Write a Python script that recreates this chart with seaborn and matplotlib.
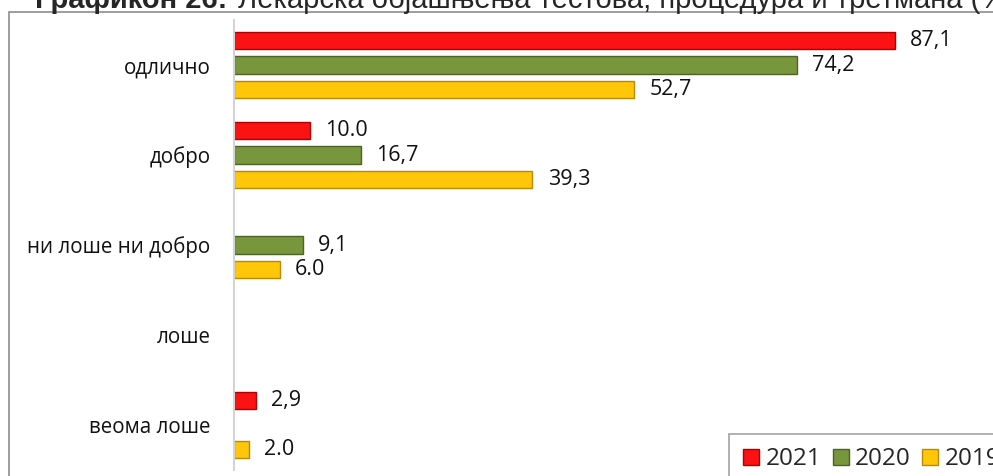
import numpy as np
import pandas as pd
import matplotlib
matplotlib.use("Agg")
import matplotlib.pyplot as plt
from matplotlib.lines import Line2D
from matplotlib.patches import Rectangle
import seaborn as sns

categories = ["одлично", "добро", "ни лоше ни добро", "лоше", "веома лоше"]
years = ["2021", "2020", "2019"]
values_2021 = [87.1, 10.0, np.nan, np.nan, 2.9]
values_2020 = [74.2, 16.7, 9.1, np.nan, np.nan]
values_2019 = [52.7, 39.3, 6.0, np.nan, 2.0]
labels_2021 = ["87,1", "10.0", "", "", "2,9"]
labels_2020 = ["74,2", "16,7", "9,1", "", ""]
labels_2019 = ["52,7", "39,3", "6.0", "", "2.0"]

colors = {"2021": "#fb1212", "2020": "#78963c", "2019": "#ffc60a"}
edges = {"2021": "#b00000", "2020": "#4f6228", "2019": "#b98a00"}

df = pd.DataFrame({
    "category": categories * 3,
    "year": [y for y in years for _ in categories],
    "value": values_2021 + values_2020 + values_2019,
})

sns.set_style("white")
plt.rcParams["font.family"] = ["Open Sans", "DejaVu Sans"]

fig = plt.figure(figsize=(9.93, 4.76), dpi=100)
ax = fig.add_axes([234 / 993, 1 - 470 / 476, (993 - 234) / 993, 450 / 476])

sns.barplot(data=df, y="category", x="value", hue="year", order=categories,
            hue_order=years, palette=colors, saturation=1, orient="h",
            width=0.82, gap=0.3, legend=False, ax=ax)

for cont, yr in zip(ax.containers, years):
    for bar in cont:
        bar.set_edgecolor(edges[yr])
        bar.set_linewidth(1.0)

# value labels, matched to bars by category position
all_labels = [labels_2021, labels_2020, labels_2019]
for cont, labs in zip(ax.containers, all_labels):
    for bar in cont:
        yc = bar.get_y() + bar.get_height() / 2
        i = int(round(yc))
        if labs[i] == "":
            continue
        ax.annotate(labs[i], (bar.get_width(), yc),
                    xytext=(11, 0), textcoords="offset points",
                    va="center", ha="left", fontsize=15.5, color="#111111")

ax.set_xlim(0, 100)
ax.set_ylim(len(categories) - 0.5, -0.5)
ax.set_xlabel("")
ax.set_ylabel("")
ax.set_xticks([])
ax.tick_params(axis="y", length=0, pad=17, labelsize=14.8, labelcolor="#111111")
for s in ["top", "right", "bottom"]:
    ax.spines[s].set_visible(False)
ax.spines["left"].set_color("#d4d4d4")
ax.spines["left"].set_linewidth(1.5)

# chart frame (runs off the right and bottom edges)
fig.patches.append(Rectangle((9 / 993, -0.1), 1.2, 1 - 12 / 476 + 0.1,
                             transform=fig.transFigure, fill=False,
                             edgecolor="#8c8c8c", linewidth=1.2))

# title, clipped at the top of the image like the source
fig.text(35 / 993, 1 - 8 / 476, "Графикон 26:", fontsize=21,
         fontweight="bold", family="Liberation Sans", va="baseline")
fig.text(238 / 993, 1 - 8 / 476,
         "Лекарска објашњења тестова, процедура и третмана (%)",
         fontsize=21, family="Liberation Sans", va="baseline")

handles = [Line2D([], [], marker="s", linestyle="", markersize=11,
                  markerfacecolor=colors[y], markeredgecolor=edges[y])
           for y in years]
leg = fig.legend(handles, years, loc="upper left",
                 bbox_to_anchor=(729 / 993, 1 - 434 / 476), ncol=3,
                 frameon=True, fancybox=False, fontsize=17.5,
                 handlelength=0.7, handletextpad=0.25, columnspacing=0.45,
                 borderpad=0.55, borderaxespad=0)
leg.get_frame().set_edgecolor("#8c8c8c")
leg.get_frame().set_linewidth(1.2)

fig.savefig("out.png", dpi=100)
